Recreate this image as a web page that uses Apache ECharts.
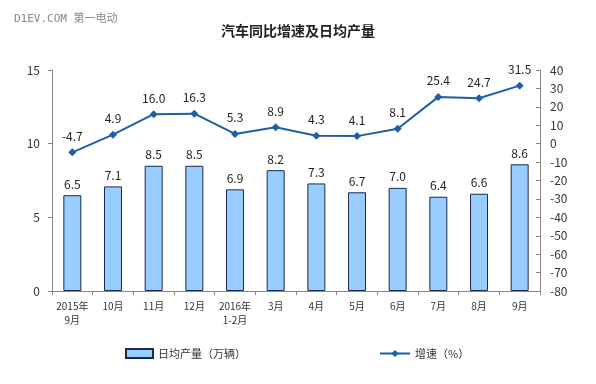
<!DOCTYPE html>
<html><head><meta charset="utf-8">
<script src="https://cdn.jsdelivr.net/npm/echarts@6/dist/echarts.min.js"></script>
<style>html,body{margin:0;padding:0;background:#fff}#c{width:596px;height:384px}</style>
</head><body><div id="c"></div>
<script>
const categories = ['2015年\n9月','10月','11月','12月','2016年\n1-2月','3月','4月','5月','6月','7月','8月','9月'];
const dailyOutput = [6.5,7.1,8.5,8.5,6.9,8.2,7.3,6.7,7.0,6.4,6.6,8.6];
const growth = [-4.7,4.9,16.0,16.3,5.3,8.9,4.3,4.1,8.1,25.4,24.7,31.5];
const leftTicks = [0,5,10,15];
const rightTicks = [-80,-70,-60,-50,-40,-30,-20,-10,0,10,20,30,40];

const chart = echarts.init(document.getElementById('c'));
chart.setOption({
  backgroundColor:'#fff',
  animation:false,
  textStyle:{fontFamily:'"Noto Sans CJK SC", sans-serif'},
  graphic:[{type:'text',left:14,top:14,style:{text:'D1EV.COM 第一电动',fill:'#888',font:'11px "DejaVu Sans Mono", "Noto Sans CJK SC", monospace'}}],
  title:{text:'汽车同比增速及日均产量',left:'center',top:19,textStyle:{fontSize:14,fontWeight:'bold',color:'#222',fontFamily:'"Noto Sans CJK SC", sans-serif'}},
  legend:[
    {left:120,top:343,itemWidth:27,itemHeight:9,textStyle:{fontSize:11,color:'#333'},
     data:[{name:'日均产量（万辆）',icon:'rect'}]},
    {left:374,top:343,itemWidth:30,itemHeight:9,textStyle:{fontSize:11,color:'#333'},
     data:[{name:'增速（%）'}]}
  ],
  grid:{left:52,right:56,top:70,bottom:93},
  xAxis:{type:'category',data:categories,boundaryGap:true,
    axisLine:{lineStyle:{color:'#888'}},
    axisTick:{show:true,alignWithLabel:false,length:4,lineStyle:{color:'#888'}},
    axisLabel:{fontSize:10,color:'#333',interval:0,lineHeight:14}},
  yAxis:[
    {type:'value',min:leftTicks[0],max:leftTicks[leftTicks.length-1],interval:5,
     axisLine:{show:true,lineStyle:{color:'#888'}},axisTick:{show:true,length:4,lineStyle:{color:'#888'}},
     splitLine:{show:false},axisLabel:{fontSize:12,color:'#333',margin:12}},
    {type:'value',min:rightTicks[0],max:rightTicks[rightTicks.length-1],interval:10,position:'right',
     axisLine:{show:true,lineStyle:{color:'#888'}},axisTick:{show:true,inside:true,length:4,lineStyle:{color:'#888'}},
     splitLine:{show:false},axisLabel:{fontSize:12,color:'#333',margin:10}}
  ],
  series:[
    {name:'日均产量（万辆）',type:'bar',data:dailyOutput,yAxisIndex:0,barWidth:18,
     itemStyle:{color:'#99ccff',borderColor:'#1a2a4a',borderWidth:1},
     label:{show:true,position:'top',fontSize:12,color:'#222',distance:5,formatter:p=>p.value.toFixed(1)}},
    {name:'增速（%）',type:'line',data:growth,yAxisIndex:1,symbol:'diamond',symbolSize:8,
     lineStyle:{color:'#1f5fa5',width:2},itemStyle:{color:'#1f5fa5'},
     label:{show:true,position:'top',fontSize:12,color:'#222',distance:6,formatter:p=>p.value.toFixed(1)}}
  ]
});
</script></body></html>
